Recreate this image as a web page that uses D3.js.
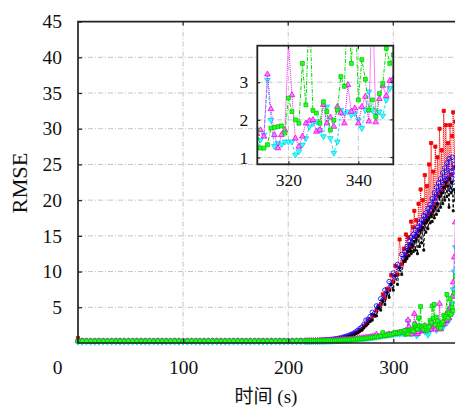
<!DOCTYPE html>
<html>
<head>
<meta charset="utf-8">
<script src="https://cdn.jsdelivr.net/npm/d3@7"></script>
<style>
  body { margin: 0; background: #fff; }
  text { font-family: "Liberation Serif", "DejaVu Serif", serif; fill: #111; }
</style>
</head>
<body>
<div id="chart"></div>
<script>
// sample times (s)
var timeEarly = [0,4,8,12,16,20,24,28,32,36,40,44,48,52,56,60,64,68,72,76,80,84,
  88,92,96,100,104,108,112,116,120,124,128,132,136,140,144,148,152,156,160,164,168,172,
  176,180,184,188,192,196,200,204,208,212,216];
var timeMid = [218,220,222,224,226,228,230,232,234,236,238,240,242,244,246,248,250,252,254,256,
  258,260,262,264,266,268,270,272,274,276,278,280,282,284,286,288,290,292,294,296,
  298,300,302,304,306,308,310];
var timeLate = [311,312,313,314,315,316,317,318,319,320,321,322,323,324,325,326,327,328,329,330,
  331,332,333,334,335,336,337,338,339,340,341,342,343,344,345,346,347,348,349,350,
  351,352,353,354,355,356,357,358,359];
var times = timeEarly.concat(timeMid, timeLate);

var yTicks = [5,10,15,20,25,30,35,40,45];
var xTicks = [0,100,200,300];
var insetXTicks = [320,340];
var insetYTicks = [1,2,3];

// RMSE of each run
var blackRmse = [
  0.45,0.3,0.26,0.25,0.27,0.24,0.25,0.26,0.24,0.25,0.26,
  0.25,0.24,0.26,0.25,0.27,0.25,0.24,0.26,0.25,0.24,0.26,
  0.25,0.27,0.24,0.25,0.26,0.25,0.24,0.26,0.25,0.27,0.25,
  0.24,0.26,0.25,0.24,0.26,0.25,0.27,0.25,0.26,0.25,0.27,
  0.26,0.25,0.27,0.26,0.28,0.27,0.26,0.28,0.27,0.29,0.28,
  0.28,0.29,0.3,0.31,0.32,0.33,0.34,0.36,0.38,0.4,
  0.42,0.44,0.46,0.49,0.52,0.55,0.6,0.66,0.72,0.8,
  0.88,0.98,1.1,1.25,1.4,1.6,1.8,2.1,2.4,2.7,
  3.0,3.2,3.9,3.8,4.9,4.6,5.9,5.4,7.0,6.4,
  8.2,7.4,9.4,8.2,10.5,9.6,11.4,
  11.5,12.0,11.8,12.8,12.2,13.2,12.5,13.8,12.8,14.2,
  13.0,14.5,12.5,15.0,13.5,15.8,14.0,16.2,13.0,16.8,
  15.5,17.2,16.0,17.6,16.8,18.0,17.0,18.5,17.5,19.0,
  18.0,19.5,18.5,20.5,19.0,21.0,19.5,21.8,20.0,22.5,
  20.5,22.0,19.0,23.0,21.0,22.5,18.5,21.5,20.0];
var redRmse = [
  0.7,0.36,0.3,0.31,0.29,0.3,0.32,0.3,0.29,0.31,0.3,
  0.29,0.31,0.3,0.32,0.3,0.29,0.31,0.3,0.3,0.32,0.29,
  0.31,0.3,0.29,0.31,0.3,0.32,0.3,0.29,0.31,0.3,0.3,
  0.32,0.29,0.31,0.3,0.3,0.31,0.29,0.32,0.3,0.31,0.3,
  0.29,0.31,0.32,0.3,0.31,0.33,0.3,0.32,0.31,0.33,0.32,
  0.3,0.32,0.3,0.35,0.33,0.36,0.38,0.37,0.42,0.44,
  0.45,0.5,0.48,0.55,0.58,0.6,0.68,0.7,0.82,0.86,
  0.95,1.1,1.2,1.4,1.5,1.8,1.9,2.4,2.6,3.1,
  3.3,3.9,3.8,4.6,5.2,5.4,6.8,6.3,7.6,7.4,
  9.5,8.6,10.8,9.6,14.5,11.0,13.2,
  11.5,15.2,12.3,14.8,12.9,13.6,17.0,13.5,16.2,18.5,
  14.8,17.2,15.0,19.5,15.6,21.5,16.0,20.0,16.8,23.5,
  17.0,22.0,17.5,25.0,18.0,28.0,18.2,24.0,19.0,27.5,
  19.5,26.0,20.5,30.0,21.0,27.0,21.5,32.5,22.0,30.5,
  22.5,28.0,23.0,30.5,23.5,29.0,32.3,24.5,31.0];
var blueRmse = [
  0.32,0.3,0.31,0.29,0.3,0.31,0.3,0.29,0.31,0.3,0.32,
  0.3,0.29,0.31,0.3,0.3,0.32,0.29,0.31,0.3,0.29,0.31,
  0.3,0.32,0.3,0.29,0.31,0.3,0.3,0.31,0.29,0.3,0.32,
  0.3,0.31,0.29,0.3,0.32,0.3,0.31,0.29,0.3,0.31,0.3,
  0.32,0.3,0.31,0.3,0.32,0.31,0.3,0.32,0.31,0.33,0.32,
  0.3,0.31,0.33,0.34,0.35,0.34,0.38,0.4,0.42,0.45,
  0.47,0.49,0.52,0.56,0.6,0.66,0.72,0.8,0.9,0.98,
  1.1,1.2,1.35,1.55,1.75,2.0,2.2,2.6,3.2,3.3,
  3.7,4.3,4.1,5.2,5.0,6.2,6.0,7.4,6.9,8.6,
  8.0,9.8,9.2,11.0,10.4,12.4,11.8,
  12.8,12.0,13.5,13.0,14.2,13.6,14.8,14.0,15.2,14.6,
  15.8,15.0,16.2,15.4,16.8,16.0,17.2,16.4,17.8,17.0,
  18.2,17.4,18.8,18.0,19.4,18.6,20.2,19.0,21.0,19.8,
  21.8,20.4,22.4,21.0,23.0,21.6,23.8,22.2,24.5,22.8,
  25.2,23.0,25.8,21.5,24.0,26.0,22.5,25.0,23.5];
var greenRmse = [
  0.28,0.29,0.28,0.27,0.28,0.29,0.28,0.27,0.28,0.29,0.28,
  0.27,0.28,0.29,0.28,0.28,0.27,0.29,0.28,0.28,0.29,0.27,
  0.28,0.29,0.28,0.27,0.28,0.28,0.29,0.28,0.27,0.28,0.29,
  0.28,0.27,0.28,0.29,0.28,0.28,0.27,0.29,0.28,0.28,0.29,
  0.28,0.27,0.28,0.29,0.28,0.29,0.28,0.29,0.3,0.29,0.3,
  0.3,0.3,0.31,0.3,0.32,0.31,0.33,0.32,0.34,0.33,
  0.35,0.36,0.35,0.37,0.38,0.4,0.39,0.42,0.44,0.43,
  0.46,0.48,0.5,0.52,0.55,0.58,0.6,0.62,0.66,0.7,
  0.72,0.78,0.8,0.9,0.85,1.0,1.45,1.0,1.1,1.2,
  1.15,1.3,1.5,1.35,1.4,1.6,1.5,
  1.73,1.25,1.25,1.34,1.78,1.8,1.82,1.84,1.65,2.58,
  2.22,2.0,1.91,3.5,2.4,5.1,2.25,2.18,1.91,2.48,
  2.22,1.73,1.99,2.26,3.15,2.89,5.2,3.5,5.4,2.53,
  3.6,3.08,2.26,2.53,2.08,2.7,2.97,3.9,3.5,3.73,
  6.8,3.5,4.2,6.2,4.0,5.0,4.5,7.0,9.3];
var magentaRmse = [
  0.27,0.28,0.27,0.26,0.27,0.28,0.27,0.26,0.27,0.28,0.27,
  0.28,0.27,0.26,0.27,0.28,0.27,0.27,0.26,0.28,0.27,0.27,
  0.26,0.28,0.27,0.27,0.27,0.28,0.27,0.26,0.28,0.27,0.27,
  0.28,0.26,0.27,0.27,0.27,0.28,0.27,0.26,0.28,0.27,0.28,
  0.27,0.26,0.28,0.27,0.27,0.27,0.28,0.27,0.28,0.28,0.29,
  0.3,0.32,0.3,0.33,0.31,0.34,0.33,0.35,0.34,0.36,
  0.37,0.38,0.4,0.39,0.42,0.44,0.45,0.47,0.5,0.5,
  0.52,0.55,0.58,0.6,0.63,0.68,0.7,0.72,0.78,0.8,
  0.85,0.9,0.95,1.2,0.9,1.0,1.1,1.05,1.15,1.25,
  1.2,1.35,1.3,1.4,1.5,1.45,1.6,
  1.63,1.73,1.56,3.21,2.29,1.6,1.25,1.6,1.73,4.1,
  2.66,1.51,1.29,1.56,1.91,1.98,2.0,1.69,1.73,2.4,
  1.91,2.07,1.82,2.35,2.19,1.91,2.93,2.22,2.31,1.91,
  2.35,2.62,1.96,5.5,1.94,2.56,2.91,2.64,3.04,3.1,
  3.2,4.5,3.5,5.0,4.2,6.5,8.5,12.0,16.9];
var cyanRmse = [
  0.15,0.14,0.16,0.15,0.14,0.15,0.16,0.15,0.14,0.15,0.16,
  0.15,0.14,0.15,0.16,0.15,0.15,0.14,0.16,0.15,0.14,0.15,
  0.16,0.15,0.14,0.15,0.15,0.16,0.14,0.15,0.16,0.15,0.14,
  0.15,0.16,0.15,0.14,0.15,0.16,0.15,0.15,0.14,0.16,0.15,
  0.15,0.16,0.15,0.17,0.16,0.17,0.18,0.17,0.18,0.19,0.2,
  0.2,0.2,0.21,0.2,0.22,0.21,0.23,0.22,0.24,0.25,
  0.26,0.27,0.28,0.3,0.31,0.32,0.34,0.35,0.37,0.4,
  0.42,0.44,0.46,0.5,0.52,0.55,0.58,0.6,0.64,0.68,
  0.7,0.75,0.8,0.85,0.9,0.95,1.0,1.05,1.1,1.12,
  1.15,1.2,1.25,1.3,1.28,1.35,1.3,
  1.27,1.47,1.6,3.06,2.0,1.3,1.38,1.34,1.42,1.42,
  1.42,1.07,1.16,1.34,1.51,1.82,1.91,1.96,1.73,1.56,
  2.35,1.51,1.12,1.42,2.26,2.17,2.22,2.13,2.17,2.0,
  1.78,2.26,2.75,2.26,2.13,2.22,2.11,2.53,2.84,3.06,
  2.8,3.5,3.2,4.0,4.5,5.5,7.5,10.0,13.4];

// drawing styles, in drawing order
var series = [
  {vals: redRmse, color: "#ff0000", dash: "1,1", sym: d3.symbolSquare, size: 10, fill: "#ff0000", stroke: "#e00000"},
  {vals: blueRmse, color: "#0000ff", dash: "1,1.2", sym: d3.symbolCircle, size: 16, fill: "none", stroke: "#0000ff"},
  {vals: blackRmse, color: "#000000", dash: "3,2", sym: d3.symbolSquare, size: 4, fill: "#000", stroke: "#000"},
  {vals: cyanRmse, color: "#00e5ee", dash: "3,2", sym: d3.symbolTriangle, rot: true, size: 14, fill: "#40ffff", stroke: "#00d8e8"},
  {vals: magentaRmse, color: "#ff00ff", dash: "1,1", sym: d3.symbolTriangle, size: 14, fill: "#ff80ff", stroke: "#ee00ee"},
  {vals: greenRmse, color: "#00dd00", dash: "4,1.5,1,1.5", sym: d3.symbolSquare, size: 15, fill: "#22ff22", stroke: "#00cc00"}
];

var svg = d3.select("#chart").append("svg")
    .attr("width", 455)
    .attr("height", 407);

var x = d3.scaleLinear().domain([0, 300]).range([78, 393.3]);
var y = d3.scaleLinear().domain([0, 45]).range([343, 21.6]);
var x0 = 78, x1 = 456, yb = 343, yt = 21.6;

// grid
var grid = svg.append("g")
    .attr("stroke", "#c4c4c4")
    .attr("stroke-width", 1)
    .attr("stroke-dasharray", "5,2,1,2");
grid.selectAll("h").data(yTicks.slice(0, -1)).enter().append("line")
    .attr("x1", x0).attr("x2", x1)
    .attr("y1", function(d) { return y(d); }).attr("y2", function(d) { return y(d); });
grid.selectAll("v").data(xTicks.slice(1)).enter().append("line")
    .attr("y1", yt).attr("y2", yb)
    .attr("x1", function(d) { return x(d); }).attr("x2", function(d) { return x(d); });

function drawSeries(g, xs, ys, s, tMin) {
  var pts = times.map(function(t, i) { return [t, s.vals[i]]; })
    .filter(function(d) { return d[0] >= tMin; });
  var line = d3.line()
    .x(function(d) { return xs(d[0]); })
    .y(function(d) { return ys(d[1]); });
  g.append("path")
    .datum(pts)
    .attr("d", line)
    .attr("fill", "none")
    .attr("stroke", s.color)
    .attr("stroke-width", 1)
    .attr("stroke-dasharray", s.dash);
  g.append("g").selectAll("path")
    .data(pts)
    .enter().append("path")
      .attr("transform", function(d) {
        return "translate(" + xs(d[0]) + "," + ys(d[1]) + ")" + (s.rot ? " rotate(180)" : "");
      })
      .attr("d", d3.symbol().type(s.sym).size(s.size))
      .attr("fill", s.fill)
      .attr("stroke", s.stroke)
      .attr("stroke-width", 0.8);
}

var plot = svg.append("g");
series.forEach(function(s) { drawSeries(plot, x, y, s, 0); });

// axes
var yAxis = svg.append("g")
    .attr("transform", "translate(" + x0 + ",0)")
    .call(d3.axisLeft(y).tickValues(yTicks).tickSizeInner(-4).tickSizeOuter(0).tickPadding(16));
var xAxis = svg.append("g")
    .attr("transform", "translate(0," + yb + ")")
    .call(d3.axisBottom(x).tickValues(xTicks).tickSizeInner(-4).tickSizeOuter(0).tickPadding(17));
[yAxis, xAxis].forEach(function(a) {
  a.select(".domain").remove();
  a.selectAll("line").attr("stroke", "#222").attr("stroke-width", 1.2);
  a.selectAll("text").style("font-size", "19.5px").attr("fill", "#111");
});
xAxis.selectAll(".tick").filter(function(d) { return d === 0; }).select("text").attr("x", -21);
xAxis.selectAll(".tick").filter(function(d) { return d === 0; }).select("line").remove();

// frame
svg.append("path")
    .attr("d", "M" + x1 + "," + yt + "H" + x0 + "V" + yb + "H" + x1)
    .attr("fill", "none")
    .attr("stroke", "#222")
    .attr("stroke-width", 1.7);
svg.append("g").selectAll("line").data(xTicks.slice(1)).enter().append("line")
    .attr("x1", function(d) { return x(d); }).attr("x2", function(d) { return x(d); })
    .attr("y1", yt).attr("y2", yt + 4)
    .attr("stroke", "#222").attr("stroke-width", 1.2);

// labels
svg.append("text")
    .attr("transform", "translate(27,183) rotate(-90)")
    .attr("text-anchor", "middle")
    .style("font-size", "20px")
    .attr("textLength", 61)
    .attr("lengthAdjust", "spacingAndGlyphs")
    .text("RMSE");
svg.append("text")
    .attr("x", 266).attr("y", 403)
    .attr("text-anchor", "middle")
    .style("font-size", "19px")
    .style("font-family", "'Liberation Serif', 'Noto Sans CJK SC', serif")
    .text("时间 (s)");

// inset
var ix = d3.scaleLinear().domain([311.1, 350]).range([257.3, 393.3]);
var iy = d3.scaleLinear().domain([0.82, 3.97]).range([164.3, 45.7]);
var inset = svg.append("g");
inset.append("rect")
    .attr("x", 257.3).attr("y", 45.7).attr("width", 136).attr("height", 118.6)
    .attr("fill", "#fff");
inset.append("clipPath").attr("id", "insetClip")
  .append("rect")
    .attr("x", 257.3).attr("y", 45.7).attr("width", 136).attr("height", 118.6);
var igrid = inset.append("g")
    .attr("stroke", "#c4c4c4").attr("stroke-width", 1).attr("stroke-dasharray", "5,2,1,2");
igrid.selectAll("h").data(insetYTicks).enter().append("line")
    .attr("x1", 257.3).attr("x2", 393.3)
    .attr("y1", function(d) { return iy(d); }).attr("y2", function(d) { return iy(d); });
igrid.selectAll("v").data(insetXTicks).enter().append("line")
    .attr("y1", 45.7).attr("y2", 164.3)
    .attr("x1", function(d) { return ix(d); }).attr("x2", function(d) { return ix(d); });
var iplot = inset.append("g").attr("clip-path", "url(#insetClip)");
series.slice(3).forEach(function(s) { drawSeries(iplot, ix, iy, s, 309); });

var iyAxis = inset.append("g")
    .attr("transform", "translate(257.3,0)")
    .call(d3.axisLeft(iy).tickValues(insetYTicks).tickFormat(d3.format("d"))
      .tickSizeInner(-3).tickSizeOuter(0).tickPadding(9));
var ixAxis = inset.append("g")
    .attr("transform", "translate(0,164.3)")
    .call(d3.axisBottom(ix).tickValues(insetXTicks).tickFormat(d3.format("d"))
      .tickSizeInner(-3).tickSizeOuter(0).tickPadding(9));
[iyAxis, ixAxis].forEach(function(a) {
  a.select(".domain").remove();
  a.selectAll("line").attr("stroke", "#222").attr("stroke-width", 1.2);
  a.selectAll("text").style("font-size", "17.5px").attr("fill", "#111");
});
inset.append("g").selectAll("line").data(insetYTicks).enter().append("line")
    .attr("x1", 390.3).attr("x2", 393.3)
    .attr("y1", function(d) { return iy(d); }).attr("y2", function(d) { return iy(d); })
    .attr("stroke", "#222").attr("stroke-width", 1.2);
inset.append("g").selectAll("line").data(insetXTicks).enter().append("line")
    .attr("y1", 45.7).attr("y2", 48.7)
    .attr("x1", function(d) { return ix(d); }).attr("x2", function(d) { return ix(d); })
    .attr("stroke", "#222").attr("stroke-width", 1.2);
inset.append("rect")
    .attr("x", 257.3).attr("y", 45.7).attr("width", 136).attr("height", 118.6)
    .attr("fill", "none")
    .attr("stroke", "#222")
    .attr("stroke-width", 1.8);
</script>
</body>
</html>
